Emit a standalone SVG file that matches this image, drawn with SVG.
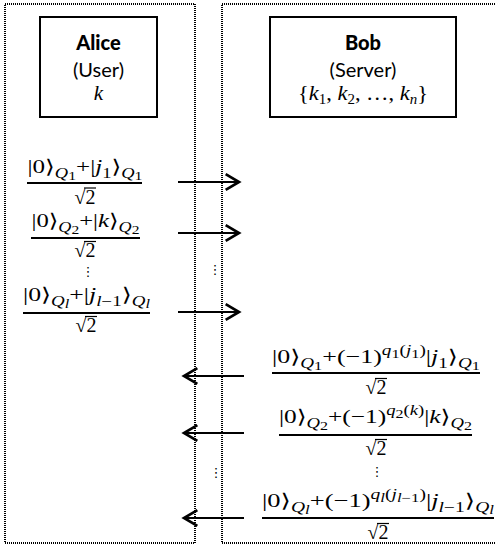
<svg xmlns="http://www.w3.org/2000/svg" width="495" height="544" viewBox="0 0 495 544">
<style>
.frame{fill:none;stroke:#000;stroke-width:2;stroke-dasharray:1 1}
.box{fill:#fff;stroke:#000;stroke-width:2}
.lbl{font-family:"Lato","Liberation Sans",sans-serif;font-size:20px;text-anchor:middle;fill:#000}
.b{font-weight:900}
.m{font-family:"Liberation Serif","DejaVu Serif","DejaVu Sans",serif;font-size:19px;text-anchor:middle;fill:#000}
.i{font-style:italic}
.s{font-size:14px}
.ss{font-size:12px}
.sq{font-size:20px}
.bar{stroke:#000;stroke-width:1.8}
.ob{stroke:#000;stroke-width:1.2}
.dots{font-family:"DejaVu Sans",sans-serif;font-size:13px;text-anchor:middle;fill:#000}
.arr{stroke:#000;stroke-width:2;fill:none}
</style>
<defs>
<marker id="ah" markerUnits="userSpaceOnUse" markerWidth="20" markerHeight="20" refX="0" refY="0" viewBox="-14 -9 16 18" orient="auto" overflow="visible">
<path d="M-12,-7 L0,0 L-12,7" fill="none" stroke="#000" stroke-width="2.4"/>
</marker>
</defs>
<g id="alice-frame"><rect class="frame" x="5" y="4" width="190" height="539"/></g>
<g id="bob-frame"><rect class="frame" x="222" y="4" width="290" height="539"/></g>
<g id="alice">
<rect class="box" x="40" y="17" width="117" height="100"/>
<text class="lbl b" x="98.5" y="50">Alice</text>
<text class="lbl" x="98.5" y="77">(User)</text>
<text class="m i" x="98.5" y="100" style="font-size:21px">k</text>
</g>
<g id="bob">
<rect class="box" x="270" y="17" width="186" height="100"/>
<text class="lbl b" x="363" y="50">Bob</text>
<text class="lbl" x="363" y="77">(Server)</text>
<text class="m" x="363" y="100" style="font-size:21px" textLength="130" lengthAdjust="spacingAndGlyphs">{<tspan class="i">k</tspan><tspan class="s" dy="4">1</tspan><tspan dy="-4">, </tspan><tspan class="i">k</tspan><tspan class="s" dy="4">2</tspan><tspan dy="-4">, …, </tspan><tspan class="i">k</tspan><tspan class="s i" dy="4">n</tspan><tspan dy="-4">}</tspan></text>
</g>
<g id="msg-l1">
<text class="m" x="85" y="173" textLength="115" lengthAdjust="spacingAndGlyphs">|0⟩<tspan class="s i" dy="5">Q</tspan><tspan class="ss" dy="2">1</tspan><tspan dy="-7">+|</tspan><tspan class="i">j</tspan><tspan class="s" dy="5">1</tspan><tspan dy="-5">⟩</tspan><tspan class="s i" dy="5">Q</tspan><tspan class="ss" dy="2">1</tspan></text>
<line class="bar" x1="27" y1="183" x2="142" y2="183"/>
<text class="m sq" x="85" y="204">√2</text><line class="ob" x1="84" y1="188" x2="96" y2="188"/>
</g>
<g id="msg-l2">
<text class="m" x="85.5" y="227" textLength="108" lengthAdjust="spacingAndGlyphs">|0⟩<tspan class="s i" dy="5">Q</tspan><tspan class="ss" dy="2">2</tspan><tspan dy="-7">+|</tspan><tspan class="i">k</tspan><tspan>⟩</tspan><tspan class="s i" dy="5">Q</tspan><tspan class="ss" dy="2">2</tspan></text>
<line class="bar" x1="31" y1="238" x2="140" y2="238"/>
<text class="m sq" x="85" y="257">√2</text><line class="ob" x1="84" y1="241.5" x2="96" y2="241.5"/>
<text class="dots" x="88" y="276">⋮</text>
</g>
<g id="msg-l3">
<text class="m" x="86.5" y="301" textLength="127" lengthAdjust="spacingAndGlyphs">|0⟩<tspan class="s i" dy="5">Q</tspan><tspan class="ss i" dy="2">l</tspan><tspan dy="-7">+|</tspan><tspan class="i">j</tspan><tspan class="s i" dy="5">l</tspan><tspan class="s">−1</tspan><tspan dy="-5">⟩</tspan><tspan class="s i" dy="5">Q</tspan><tspan class="ss i" dy="2">l</tspan></text>
<line class="bar" x1="23" y1="313" x2="150" y2="313"/>
<text class="m sq" x="86" y="332">√2</text><line class="ob" x1="85" y1="316.5" x2="97" y2="316.5"/>
</g>
<g id="msg-r1">
<text class="m" x="376" y="363" textLength="208" lengthAdjust="spacingAndGlyphs">|0⟩<tspan class="s i" dy="5">Q</tspan><tspan class="ss" dy="2">1</tspan><tspan dy="-7">+(−1)</tspan><tspan class="s i" dy="-8">q</tspan><tspan class="ss" dy="3">1</tspan><tspan class="s" dy="-3">(</tspan><tspan class="s i">j</tspan><tspan class="ss" dy="3">1</tspan><tspan class="s" dy="-3">)</tspan><tspan dy="8">|</tspan><tspan class="i">j</tspan><tspan class="s" dy="5">1</tspan><tspan dy="-5">⟩</tspan><tspan class="s i" dy="5">Q</tspan><tspan class="ss" dy="2">1</tspan></text>
<line class="bar" x1="272" y1="373" x2="480" y2="373"/>
<text class="m sq" x="376" y="394">√2</text><line class="ob" x1="375" y1="378.5" x2="387" y2="378.5"/>
</g>
<g id="msg-r2">
<text class="m" x="375.5" y="423" textLength="193" lengthAdjust="spacingAndGlyphs">|0⟩<tspan class="s i" dy="5">Q</tspan><tspan class="ss" dy="2">2</tspan><tspan dy="-7">+(−1)</tspan><tspan class="s i" dy="-8">q</tspan><tspan class="ss" dy="3">2</tspan><tspan class="s" dy="-3">(</tspan><tspan class="s i">k</tspan><tspan class="s">)</tspan><tspan dy="8">|</tspan><tspan class="i">k</tspan><tspan>⟩</tspan><tspan class="s i" dy="5">Q</tspan><tspan class="ss" dy="2">2</tspan></text>
<line class="bar" x1="279" y1="435" x2="472" y2="435"/>
<text class="m sq" x="376" y="455">√2</text><line class="ob" x1="375" y1="439.5" x2="387" y2="439.5"/>
<text class="dots" x="377" y="476">⋮</text>
</g>
<g id="msg-r3">
<text class="m" x="378" y="507" textLength="232" lengthAdjust="spacingAndGlyphs">|0⟩<tspan class="s i" dy="5">Q</tspan><tspan class="ss i" dy="2">l</tspan><tspan dy="-7">+(−1)</tspan><tspan class="s i" dy="-8">q</tspan><tspan class="ss i" dy="3">l</tspan><tspan class="s" dy="-3">(</tspan><tspan class="s i">j</tspan><tspan class="ss i" dy="3">l</tspan><tspan class="ss">−1</tspan><tspan class="s" dy="-3">)</tspan><tspan dy="8">|</tspan><tspan class="i">j</tspan><tspan class="s i" dy="5">l</tspan><tspan class="s">−1</tspan><tspan dy="-5">⟩</tspan><tspan class="s i" dy="5">Q</tspan><tspan class="ss i" dy="2">l</tspan></text>
<line class="bar" x1="262" y1="518" x2="494" y2="518"/>
<text class="m sq" x="378" y="539">√2</text><line class="ob" x1="377" y1="523.5" x2="389" y2="523.5"/>
</g>
<g id="connectors">
<line class="arr" x1="178" y1="182" x2="239" y2="182" marker-end="url(#ah)"/>
<line class="arr" x1="178" y1="233" x2="239" y2="233" marker-end="url(#ah)"/>
<line class="arr" x1="178" y1="312" x2="239" y2="312" marker-end="url(#ah)"/>
<line class="arr" x1="244" y1="376" x2="184" y2="376" marker-end="url(#ah)"/>
<line class="arr" x1="244" y1="433" x2="184" y2="433" marker-end="url(#ah)"/>
<line class="arr" x1="244" y1="518" x2="184" y2="518" marker-end="url(#ah)"/>
<text class="dots" x="215" y="274">⋮</text>
<text class="dots" x="216" y="477">⋮</text>
</g>
</svg>
